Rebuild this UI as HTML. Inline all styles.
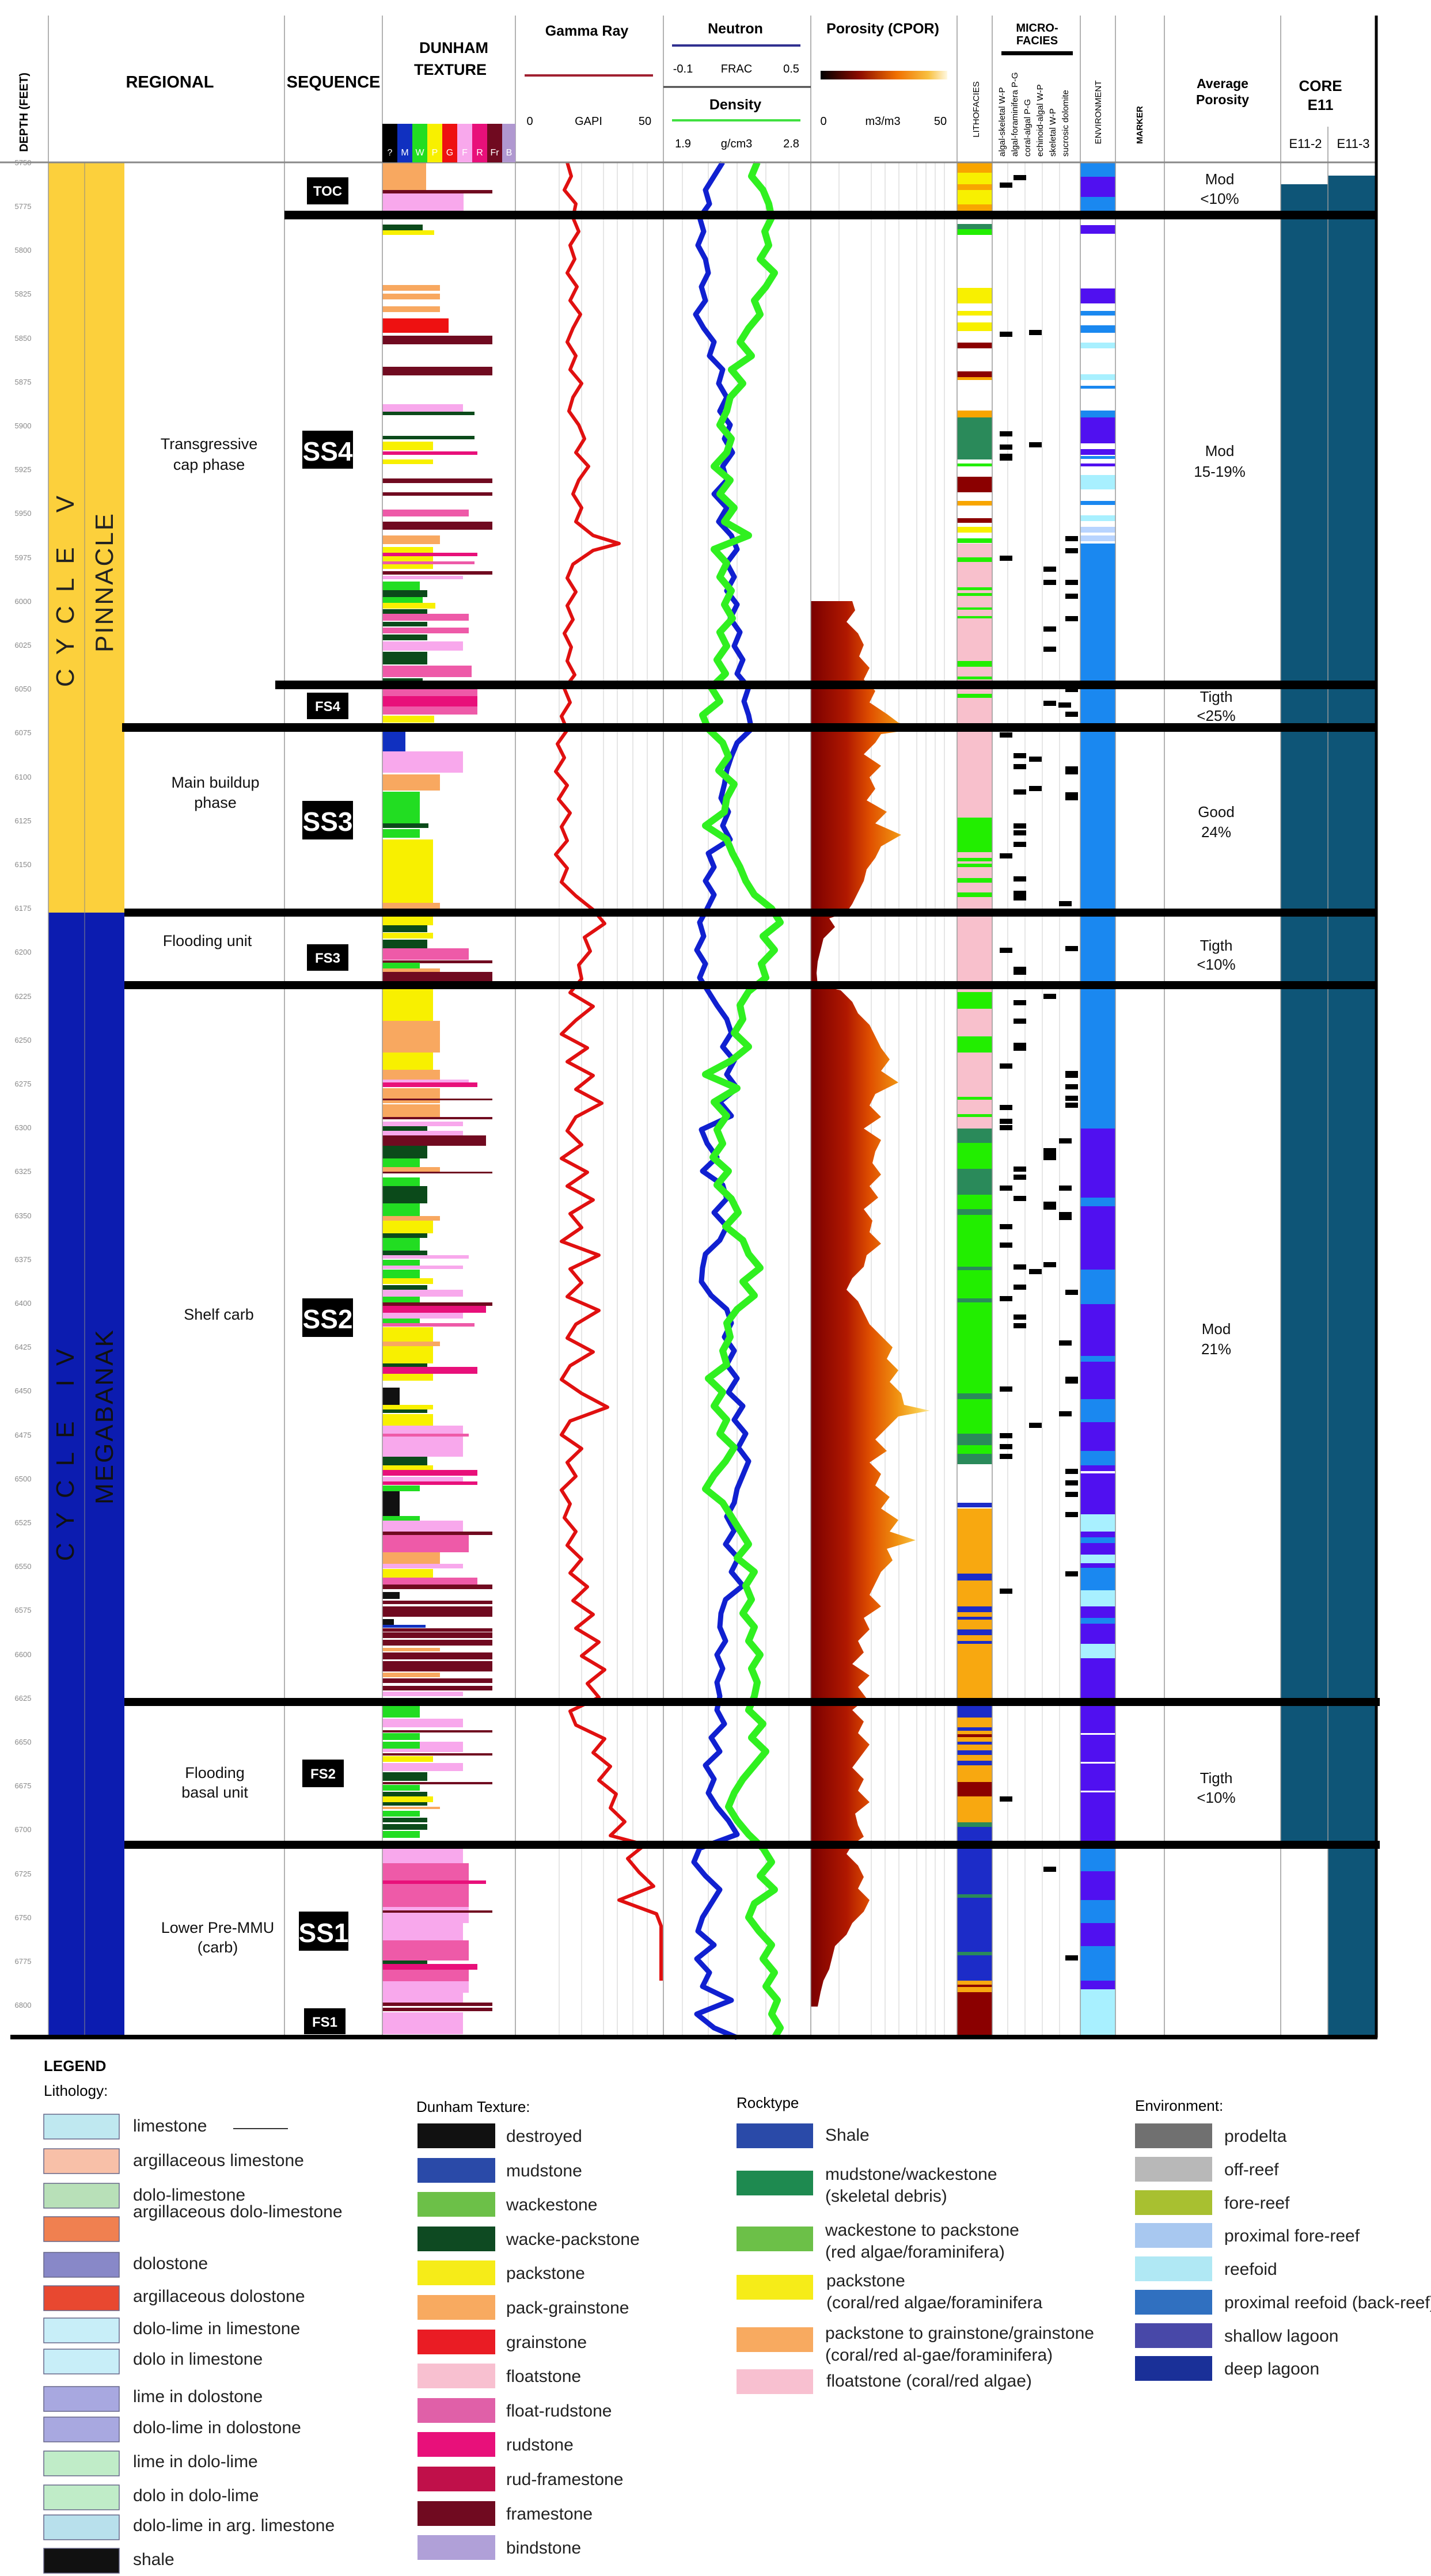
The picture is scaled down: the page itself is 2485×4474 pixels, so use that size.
<!DOCTYPE html>
<html><head><meta charset="utf-8">
<style>
html,body{margin:0;padding:0;background:#fff;}
svg{display:block;}
text{font-family:"Liberation Sans",sans-serif;}
.Y{fill:#f8f000}.G{fill:#22dd22}.DG{fill:#0b4a1a}.PK{fill:#f8a8ec}.MG{fill:#e8107a}.FR{fill:#ee5aa8}.MR{fill:#700a20}.OR{fill:#f8a860}.RD{fill:#ee1111}.BK{fill:#111}.BL{fill:#1030c0}
.lo{fill:#f8a500}.ly{fill:#f8f000}.lg{fill:#22ee00}.ld{fill:#2a8a5a}.lm{fill:#8b0000}.lp{fill:#f8c0cc}.ln{fill:#1c2cc8}.lr{fill:#f8a810}
.eb{fill:#1a88f0}.ep{fill:#5010f0}.ec{fill:#a8f0ff}.el{fill:#b8d4ff}
.gl line{stroke:#ccc;stroke-width:1}
.dep text{font-size:13px;fill:#888;text-anchor:middle}
.md rect{fill:#000}
</style></head>
<body>
<svg width="2485" height="4474" viewBox="0 0 2485 4474" xmlns="http://www.w3.org/2000/svg">
<defs>
<linearGradient id="pg" x1="0" x2="1" y1="0" y2="0">
<stop offset="0" stop-color="#000"/><stop offset="0.3" stop-color="#8a0a00"/><stop offset="0.6" stop-color="#f07000"/><stop offset="0.85" stop-color="#f8c040"/><stop offset="1" stop-color="#fff8e0"/>
</linearGradient>
<linearGradient id="pf" gradientUnits="userSpaceOnUse" x1="1408" y1="0" x2="1615" y2="0">
<stop offset="0" stop-color="#7a0000"/><stop offset="0.3" stop-color="#b01800"/><stop offset="0.5" stop-color="#e05000"/><stop offset="0.72" stop-color="#f09010"/><stop offset="0.9" stop-color="#f8c848"/><stop offset="1" stop-color="#fce8a0"/>
</linearGradient>
</defs>
<rect x="0" y="0" width="2485" height="4474" fill="#fff"/>
<rect x="84" y="282" width="132" height="1303" fill="#fcd03c"/>
<rect x="84" y="1585" width="132" height="1954" fill="#0c1cb0"/>
<line x1="147" y1="282" x2="147" y2="3539" stroke="#888" stroke-width="1"/>
<g class="gl">
<line x1="971" y1="282" x2="971" y2="3539"/><line x1="1010" y1="282" x2="1010" y2="3539"/><line x1="1048" y1="282" x2="1048" y2="3539"/><line x1="1072" y1="282" x2="1072" y2="3539"/><line x1="1099" y1="282" x2="1099" y2="3539"/><line x1="1124" y1="282" x2="1124" y2="3539"/>
<line x1="1185" y1="282" x2="1185" y2="3539"/><line x1="1230" y1="282" x2="1230" y2="3539"/><line x1="1280" y1="282" x2="1280" y2="3539"/><line x1="1330" y1="282" x2="1330" y2="3539"/><line x1="1370" y1="282" x2="1370" y2="3539"/>
<line x1="1457" y1="282" x2="1457" y2="3539"/><line x1="1513" y1="282" x2="1513" y2="3539"/><line x1="1537" y1="282" x2="1537" y2="3539"/><line x1="1561" y1="282" x2="1561" y2="3539"/><line x1="1592" y1="282" x2="1592" y2="3539"/><line x1="1608" y1="282" x2="1608" y2="3539"/><line x1="1624" y1="282" x2="1624" y2="3539"/><line x1="1640" y1="282" x2="1640" y2="3539"/>
<line x1="1750" y1="282" x2="1750" y2="3539"/><line x1="1780" y1="282" x2="1780" y2="3539"/><line x1="1810" y1="282" x2="1810" y2="3539"/><line x1="1840" y1="282" x2="1840" y2="3539"/>
</g>
<g class="dep">
<text x="40" y="287">5750</text><text x="40" y="363">5775</text><text x="40" y="439">5800</text><text x="40" y="515">5825</text><text x="40" y="592">5850</text><text x="40" y="668">5875</text><text x="40" y="744">5900</text><text x="40" y="820">5925</text><text x="40" y="896">5950</text><text x="40" y="973">5975</text><text x="40" y="1049">6000</text><text x="40" y="1125">6025</text><text x="40" y="1201">6050</text><text x="40" y="1277">6075</text><text x="40" y="1354">6100</text><text x="40" y="1430">6125</text><text x="40" y="1506">6150</text><text x="40" y="1582">6175</text><text x="40" y="1658">6200</text><text x="40" y="1735">6225</text><text x="40" y="1811">6250</text><text x="40" y="1887">6275</text><text x="40" y="1963">6300</text><text x="40" y="2039">6325</text><text x="40" y="2116">6350</text><text x="40" y="2192">6375</text><text x="40" y="2268">6400</text><text x="40" y="2344">6425</text><text x="40" y="2420">6450</text><text x="40" y="2497">6475</text><text x="40" y="2573">6500</text><text x="40" y="2649">6525</text><text x="40" y="2725">6550</text><text x="40" y="2801">6575</text><text x="40" y="2878">6600</text><text x="40" y="2954">6625</text><text x="40" y="3030">6650</text><text x="40" y="3106">6675</text><text x="40" y="3182">6700</text><text x="40" y="3259">6725</text><text x="40" y="3335">6750</text><text x="40" y="3411">6775</text><text x="40" y="3487">6800</text>
</g>
<rect x="2224" y="320" width="82" height="2884" fill="#0e5577"/>
<rect x="2306" y="305" width="82" height="3234" fill="#0e5577"/>
<g>
<rect x="664" y="282" width="76" height="53" class="OR"/><rect x="664" y="330" width="191" height="6" class="MR"/><rect x="664" y="336" width="141" height="34" class="PK"/>
<rect x="664" y="390" width="70" height="12" class="DG"/><rect x="664" y="400" width="90" height="8" class="Y"/>
<rect x="664" y="495" width="100" height="10" class="OR"/><rect x="664" y="510" width="100" height="10" class="OR"/><rect x="664" y="532" width="100" height="10" class="OR"/>
<rect x="664" y="553" width="115" height="25" class="RD"/><rect x="664" y="583" width="191" height="15" class="MR"/><rect x="664" y="637" width="191" height="15" class="MR"/>
<rect x="664" y="702" width="140" height="15" class="PK"/><rect x="664" y="715" width="160" height="6" class="DG"/><rect x="664" y="757" width="160" height="6" class="DG"/>
<rect x="664" y="767" width="88" height="15" class="Y"/><rect x="664" y="784" width="165" height="6" class="MG"/><rect x="664" y="798" width="88" height="8" class="Y"/>
<rect x="664" y="831" width="191" height="8" class="MR"/><rect x="664" y="855" width="191" height="6" class="MR"/><rect x="664" y="885" width="150" height="12" class="FR"/><rect x="664" y="906" width="191" height="14" class="MR"/>
<rect x="664" y="930" width="100" height="15" class="OR"/><rect x="664" y="950" width="88" height="22" class="Y"/><rect x="664" y="960" width="165" height="6" class="MG"/><rect x="664" y="972" width="88" height="16" class="Y"/><rect x="664" y="975" width="160" height="5" class="FR"/>
<rect x="664" y="992" width="191" height="6" class="MR"/><rect x="664" y="1000" width="140" height="6" class="PK"/><rect x="664" y="1010" width="65" height="15" class="G"/><rect x="664" y="1025" width="78" height="12" class="DG"/><rect x="664" y="1037" width="70" height="10" class="G"/><rect x="664" y="1047" width="92" height="10" class="Y"/><rect x="664" y="1058" width="78" height="8" class="DG"/>
<rect x="664" y="1066" width="150" height="12" class="FR"/><rect x="664" y="1080" width="78" height="8" class="DG"/><rect x="664" y="1090" width="150" height="10" class="FR"/><rect x="664" y="1102" width="78" height="10" class="DG"/><rect x="664" y="1114" width="140" height="16" class="PK"/><rect x="664" y="1132" width="78" height="22" class="DG"/><rect x="664" y="1156" width="155" height="20" class="FR"/><rect x="664" y="1178" width="70" height="6" class="DG"/>
<rect x="664" y="1197" width="165" height="12" class="FR"/><rect x="664" y="1209" width="165" height="18" class="MG"/><rect x="664" y="1227" width="165" height="14" class="FR"/><rect x="664" y="1243" width="90" height="12" class="Y"/>
<rect x="664" y="1271" width="40" height="50" class="BL"/><rect x="664" y="1305" width="140" height="12" class="PK"/><rect x="664" y="1317" width="140" height="25" class="PK"/><rect x="664" y="1345" width="100" height="28" class="OR"/><rect x="664" y="1375" width="65" height="55" class="G"/><rect x="664" y="1430" width="80" height="8" class="DG"/><rect x="664" y="1440" width="65" height="15" class="G"/><rect x="664" y="1458" width="88" height="110" class="Y"/><rect x="664" y="1568" width="100" height="10" class="OR"/>
<rect x="664" y="1592" width="88" height="15" class="Y"/><rect x="664" y="1607" width="78" height="12" class="DG"/><rect x="664" y="1620" width="88" height="10" class="Y"/><rect x="664" y="1632" width="78" height="15" class="DG"/><rect x="664" y="1647" width="150" height="20" class="FR"/><rect x="664" y="1668" width="191" height="5" class="MR"/><rect x="664" y="1672" width="65" height="10" class="G"/><rect x="664" y="1682" width="100" height="8" class="OR"/><rect x="664" y="1688" width="191" height="18" class="MR"/>
<rect x="664" y="1718" width="88" height="55" class="Y"/><rect x="664" y="1773" width="100" height="55" class="OR"/><rect x="664" y="1828" width="88" height="30" class="Y"/><rect x="664" y="1858" width="100" height="18" class="OR"/><rect x="664" y="1875" width="150" height="5" class="PK"/><rect x="664" y="1880" width="165" height="8" class="MG"/><rect x="664" y="1890" width="100" height="26" class="OR"/><rect x="664" y="1908" width="191" height="3" class="MR"/><rect x="664" y="1918" width="100" height="22" class="OR"/><rect x="664" y="1940" width="191" height="4" class="MR"/>
<rect x="664" y="1948" width="140" height="8" class="PK"/><rect x="664" y="1956" width="78" height="8" class="DG"/><rect x="664" y="1964" width="140" height="8" class="PK"/><rect x="664" y="1972" width="180" height="18" class="MR"/><rect x="664" y="1990" width="78" height="12" class="DG"/><rect x="664" y="2002" width="78" height="10" class="DG"/><rect x="664" y="2012" width="65" height="15" class="G"/><rect x="664" y="2027" width="100" height="8" class="OR"/><rect x="664" y="2035" width="191" height="3" class="MR"/><rect x="664" y="2045" width="65" height="15" class="G"/><rect x="664" y="2060" width="78" height="30" class="DG"/><rect x="664" y="2090" width="65" height="22" class="G"/><rect x="664" y="2112" width="100" height="8" class="OR"/><rect x="664" y="2120" width="88" height="22" class="Y"/><rect x="664" y="2142" width="78" height="8" class="DG"/><rect x="664" y="2150" width="65" height="22" class="G"/><rect x="664" y="2172" width="78" height="8" class="DG"/><rect x="664" y="2180" width="150" height="6" class="PK"/><rect x="664" y="2188" width="65" height="10" class="G"/><rect x="664" y="2198" width="140" height="6" class="PK"/><rect x="664" y="2205" width="65" height="15" class="G"/><rect x="664" y="2220" width="88" height="10" class="Y"/><rect x="664" y="2232" width="78" height="8" class="DG"/><rect x="664" y="2240" width="140" height="12" class="PK"/><rect x="664" y="2252" width="65" height="10" class="G"/><rect x="664" y="2262" width="191" height="6" class="MR"/><rect x="664" y="2268" width="180" height="12" class="MG"/><rect x="664" y="2280" width="140" height="10" class="PK"/><rect x="664" y="2290" width="65" height="8" class="G"/><rect x="664" y="2298" width="160" height="6" class="FR"/><rect x="664" y="2305" width="88" height="25" class="Y"/><rect x="664" y="2330" width="100" height="8" class="OR"/><rect x="664" y="2338" width="88" height="30" class="Y"/><rect x="664" y="2368" width="78" height="6" class="DG"/><rect x="664" y="2374" width="165" height="12" class="MG"/><rect x="664" y="2386" width="88" height="12" class="Y"/>
<rect x="664" y="2410" width="30" height="30" class="BK"/><rect x="664" y="2440" width="88" height="8" class="Y"/><rect x="664" y="2448" width="78" height="6" class="DG"/><rect x="664" y="2456" width="88" height="20" class="Y"/><rect x="664" y="2476" width="140" height="54" class="PK"/><rect x="664" y="2490" width="150" height="5" class="FR"/><rect x="664" y="2530" width="78" height="15" class="DG"/><rect x="664" y="2545" width="88" height="8" class="Y"/><rect x="664" y="2553" width="165" height="10" class="MG"/><rect x="664" y="2565" width="140" height="8" class="PK"/><rect x="664" y="2573" width="165" height="6" class="MG"/><rect x="664" y="2580" width="65" height="10" class="G"/><rect x="664" y="2590" width="30" height="15" class="BK"/><rect x="664" y="2605" width="30" height="28" class="BK"/><rect x="664" y="2633" width="65" height="8" class="G"/><rect x="664" y="2641" width="140" height="20" class="PK"/><rect x="664" y="2660" width="191" height="6" class="MR"/><rect x="664" y="2666" width="150" height="30" class="FR"/><rect x="664" y="2696" width="100" height="20" class="OR"/><rect x="664" y="2716" width="140" height="8" class="PK"/><rect x="664" y="2725" width="88" height="15" class="Y"/><rect x="664" y="2740" width="165" height="12" class="FR"/><rect x="664" y="2752" width="191" height="8" class="MR"/><rect x="664" y="2765" width="30" height="12" class="BK"/><rect x="664" y="2780" width="191" height="6" class="MR"/><rect x="664" y="2790" width="191" height="10" class="MR"/><rect x="664" y="2800" width="191" height="8" class="MR"/><rect x="664" y="2812" width="20" height="10" class="BK"/><rect x="664" y="2822" width="75" height="5" class="BL"/><rect x="664" y="2828" width="191" height="6" class="MR"/><rect x="664" y="2835" width="191" height="10" class="MR"/><rect x="664" y="2848" width="191" height="10" class="MR"/><rect x="664" y="2862" width="100" height="6" class="OR"/><rect x="664" y="2870" width="191" height="12" class="MR"/><rect x="664" y="2885" width="191" height="18" class="MR"/><rect x="664" y="2905" width="100" height="8" class="OR"/><rect x="664" y="2915" width="191" height="8" class="MR"/><rect x="664" y="2928" width="191" height="8" class="MR"/><rect x="664" y="2938" width="140" height="8" class="PK"/>
<rect x="664" y="2963" width="65" height="20" class="G"/><rect x="664" y="2985" width="140" height="15" class="PK"/><rect x="664" y="3005" width="191" height="4" class="MR"/><rect x="664" y="3010" width="65" height="12" class="G"/><rect x="664" y="3025" width="140" height="18" class="PK"/><rect x="664" y="3025" width="65" height="12" class="G"/><rect x="664" y="3045" width="191" height="4" class="MR"/><rect x="664" y="3050" width="88" height="10" class="Y"/><rect x="664" y="3062" width="140" height="14" class="PK"/><rect x="664" y="3078" width="78" height="15" class="DG"/><rect x="664" y="3095" width="191" height="4" class="MR"/><rect x="664" y="3100" width="65" height="10" class="G"/><rect x="664" y="3112" width="78" height="8" class="DG"/><rect x="664" y="3120" width="88" height="10" class="Y"/><rect x="664" y="3130" width="78" height="6" class="DG"/><rect x="664" y="3138" width="100" height="4" class="OR"/><rect x="664" y="3145" width="65" height="10" class="G"/><rect x="664" y="3157" width="78" height="8" class="DG"/><rect x="664" y="3168" width="78" height="10" class="DG"/><rect x="664" y="3180" width="65" height="12" class="G"/>
<rect x="664" y="3211" width="140" height="25" class="PK"/><rect x="664" y="3236" width="150" height="30" class="FR"/><rect x="664" y="3266" width="180" height="6" class="MG"/><rect x="664" y="3272" width="150" height="40" class="FR"/><rect x="664" y="3312" width="150" height="28" class="PK"/><rect x="664" y="3318" width="191" height="4" class="MR"/><rect x="664" y="3340" width="140" height="30" class="PK"/><rect x="664" y="3370" width="150" height="35" class="FR"/><rect x="664" y="3405" width="78" height="6" class="DG"/><rect x="664" y="3411" width="165" height="10" class="MG"/><rect x="664" y="3421" width="150" height="20" class="FR"/><rect x="664" y="3441" width="150" height="20" class="PK"/><rect x="664" y="3461" width="140" height="20" class="PK"/><rect x="664" y="3478" width="191" height="6" class="MR"/><rect x="664" y="3487" width="191" height="6" class="MR"/><rect x="664" y="3495" width="140" height="38" class="PK"/>
</g>
<g>
<rect x="1662" y="282" width="61" height="18" class="lo"/><rect x="1662" y="300" width="61" height="20" class="ly"/><rect x="1662" y="320" width="61" height="10" class="lo"/><rect x="1662" y="330" width="61" height="25" class="ly"/><rect x="1662" y="355" width="61" height="11" class="lo"/>
<rect x="1662" y="389" width="61" height="9" class="ld"/><rect x="1662" y="398" width="61" height="10" class="lg"/>
<rect x="1662" y="500" width="61" height="27" class="ly"/><rect x="1662" y="540" width="61" height="8" class="ly"/><rect x="1662" y="560" width="61" height="15" class="ly"/><rect x="1662" y="595" width="61" height="10" class="lm"/><rect x="1662" y="645" width="61" height="10" class="lm"/><rect x="1662" y="655" width="61" height="5" class="lo"/>
<rect x="1662" y="713" width="61" height="12" class="lo"/><rect x="1662" y="725" width="61" height="73" class="ld"/><rect x="1662" y="805" width="61" height="5" class="lg"/><rect x="1662" y="828" width="61" height="27" class="lm"/><rect x="1662" y="870" width="61" height="8" class="lo"/><rect x="1662" y="900" width="61" height="8" class="lm"/><rect x="1662" y="915" width="61" height="10" class="ly"/><rect x="1662" y="935" width="61" height="8" class="lg"/>
<rect x="1662" y="944" width="61" height="1016" class="lp"/>
<rect x="1662" y="968" width="61" height="8" class="lg"/><rect x="1662" y="1020" width="61" height="5" class="lg"/><rect x="1662" y="1030" width="61" height="5" class="lg"/><rect x="1662" y="1055" width="61" height="4" class="lg"/><rect x="1662" y="1070" width="61" height="4" class="lg"/><rect x="1662" y="1148" width="61" height="10" class="lg"/><rect x="1662" y="1175" width="61" height="5" class="lg"/><rect x="1662" y="1205" width="61" height="7" class="lg"/>
<rect x="1662" y="1420" width="61" height="60" class="lg"/><rect x="1662" y="1490" width="61" height="6" class="lg"/><rect x="1662" y="1500" width="61" height="6" class="lg"/><rect x="1662" y="1525" width="61" height="8" class="lg"/><rect x="1662" y="1550" width="61" height="8" class="lg"/>
<rect x="1662" y="1723" width="61" height="29" class="lg"/><rect x="1662" y="1800" width="61" height="28" class="lg"/><rect x="1662" y="1905" width="61" height="5" class="lg"/><rect x="1662" y="1935" width="61" height="5" class="lg"/>
<rect x="1662" y="1960" width="61" height="583" class="lg"/>
<rect x="1662" y="1960" width="61" height="25" class="ld"/><rect x="1662" y="2030" width="61" height="45" class="ld"/><rect x="1662" y="2100" width="61" height="10" class="ld"/><rect x="1662" y="2200" width="61" height="6" class="ld"/><rect x="1662" y="2255" width="61" height="7" class="ld"/><rect x="1662" y="2420" width="61" height="10" class="ld"/><rect x="1662" y="2490" width="61" height="20" class="ld"/><rect x="1662" y="2525" width="61" height="18" class="ld"/>
<rect x="1662" y="2610" width="61" height="8" class="ln"/><rect x="1662" y="2620" width="61" height="336" class="lr"/>
<rect x="1662" y="2733" width="61" height="12" class="ln"/><rect x="1662" y="2790" width="61" height="10" class="ln"/><rect x="1662" y="2808" width="61" height="5" class="ln"/><rect x="1662" y="2830" width="61" height="10" class="ln"/><rect x="1662" y="2850" width="61" height="5" class="ln"/>
<rect x="1662" y="2963" width="61" height="20" class="ln"/><rect x="1662" y="2983" width="61" height="112" class="lr"/><rect x="1662" y="3000" width="61" height="6" class="ln"/><rect x="1662" y="3012" width="61" height="5" class="lm"/><rect x="1662" y="3025" width="61" height="5" class="ln"/><rect x="1662" y="3040" width="61" height="8" class="ln"/><rect x="1662" y="3058" width="61" height="8" class="ln"/>
<rect x="1662" y="3095" width="61" height="25" class="lm"/><rect x="1662" y="3120" width="61" height="45" class="lr"/><rect x="1662" y="3165" width="61" height="8" class="ld"/><rect x="1662" y="3173" width="61" height="24" class="ln"/>
<rect x="1662" y="3211" width="61" height="229" class="ln"/><rect x="1662" y="3290" width="61" height="6" class="ld"/><rect x="1662" y="3390" width="61" height="6" class="ld"/>
<rect x="1662" y="3440" width="61" height="20" class="lr"/><rect x="1662" y="3447" width="61" height="4" class="lm"/><rect x="1662" y="3460" width="61" height="79" class="lm"/>
</g>
<g>
<rect x="1876" y="282" width="61" height="25" class="eb"/><rect x="1876" y="307" width="61" height="35" class="ep"/><rect x="1876" y="342" width="61" height="24" class="eb"/>
<rect x="1876" y="391" width="61" height="15" class="ep"/><rect x="1876" y="501" width="61" height="26" class="ep"/><rect x="1876" y="540" width="61" height="8" class="eb"/><rect x="1876" y="565" width="61" height="13" class="eb"/><rect x="1876" y="595" width="61" height="10" class="ec"/><rect x="1876" y="650" width="61" height="10" class="ec"/><rect x="1876" y="670" width="61" height="5" class="eb"/><rect x="1876" y="713" width="61" height="12" class="eb"/><rect x="1876" y="725" width="61" height="45" class="ep"/><rect x="1876" y="780" width="61" height="10" class="ep"/><rect x="1876" y="792" width="61" height="5" class="eb"/><rect x="1876" y="805" width="61" height="5" class="ep"/><rect x="1876" y="825" width="61" height="25" class="ec"/><rect x="1876" y="870" width="61" height="7" class="eb"/><rect x="1876" y="895" width="61" height="10" class="ec"/><rect x="1876" y="915" width="61" height="10" class="el"/><rect x="1876" y="930" width="61" height="10" class="el"/>
<rect x="1876" y="944" width="61" height="1016" class="eb"/>
<rect x="1876" y="1960" width="61" height="1244" class="ep"/>
<rect x="1876" y="2080" width="61" height="15" class="eb"/><rect x="1876" y="2205" width="61" height="60" class="eb"/><rect x="1876" y="2355" width="61" height="10" class="eb"/><rect x="1876" y="2430" width="61" height="40" class="eb"/><rect x="1876" y="2520" width="61" height="25" class="eb"/><rect x="1876" y="2555" width="61" height="4" fill="#fff"/><rect x="1876" y="2630" width="61" height="30" class="ec"/><rect x="1876" y="2670" width="61" height="10" class="eb"/><rect x="1876" y="2700" width="61" height="15" class="ec"/><rect x="1876" y="2723" width="61" height="39" class="eb"/><rect x="1876" y="2762" width="61" height="28" class="ec"/><rect x="1876" y="2810" width="61" height="10" class="eb"/><rect x="1876" y="2855" width="61" height="25" class="ec"/><rect x="1876" y="3010" width="61" height="3" fill="#fff"/><rect x="1876" y="3060" width="61" height="3" fill="#fff"/><rect x="1876" y="3110" width="61" height="3" fill="#fff"/>
<rect x="1876" y="3211" width="61" height="39" class="eb"/><rect x="1876" y="3250" width="61" height="50" class="ep"/><rect x="1876" y="3300" width="61" height="40" class="eb"/><rect x="1876" y="3340" width="61" height="40" class="ep"/><rect x="1876" y="3380" width="61" height="60" class="eb"/><rect x="1876" y="3440" width="61" height="15" class="ep"/><rect x="1876" y="3455" width="61" height="84" class="ec"/>
</g>
<g class="md">
<rect x="1760" y="304" width="22" height="9"/><rect x="1736" y="317" width="22" height="9"/><rect x="1736" y="576" width="22" height="9"/><rect x="1787" y="573" width="22" height="9"/><rect x="1736" y="749" width="22" height="9"/><rect x="1736" y="772" width="22" height="9"/><rect x="1736" y="788" width="22" height="12"/><rect x="1787" y="768" width="22" height="9"/>
<rect x="1850" y="931" width="22" height="9"/><rect x="1736" y="965" width="22" height="9"/><rect x="1812" y="984" width="22" height="9"/><rect x="1812" y="1007" width="22" height="9"/><rect x="1850" y="952" width="22" height="9"/><rect x="1850" y="1007" width="22" height="9"/><rect x="1850" y="1031" width="22" height="9"/><rect x="1850" y="1070" width="22" height="9"/><rect x="1812" y="1088" width="22" height="9"/><rect x="1812" y="1123" width="22" height="9"/><rect x="1850" y="1193" width="22" height="9"/><rect x="1812" y="1217" width="22" height="9"/><rect x="1838" y="1220" width="22" height="9"/><rect x="1850" y="1236" width="22" height="9"/>
<rect x="1736" y="1272" width="22" height="9"/><rect x="1760" y="1308" width="22" height="9"/><rect x="1787" y="1314" width="22" height="9"/><rect x="1760" y="1327" width="22" height="9"/><rect x="1850" y="1331" width="22" height="14"/><rect x="1850" y="1376" width="22" height="14"/><rect x="1760" y="1371" width="22" height="9"/><rect x="1787" y="1365" width="22" height="9"/><rect x="1760" y="1430" width="22" height="9"/><rect x="1760" y="1442" width="22" height="9"/><rect x="1760" y="1462" width="22" height="9"/><rect x="1736" y="1482" width="22" height="9"/>
<rect x="1760" y="1522" width="22" height="9"/><rect x="1760" y="1547" width="22" height="9"/><rect x="1760" y="1555" width="22" height="9"/><rect x="1839" y="1565" width="22" height="9"/><rect x="1736" y="1646" width="22" height="9"/><rect x="1850" y="1643" width="22" height="9"/><rect x="1760" y="1679" width="22" height="14"/><rect x="1812" y="1726" width="22" height="9"/><rect x="1760" y="1737" width="22" height="9"/><rect x="1760" y="1769" width="22" height="9"/><rect x="1760" y="1811" width="22" height="14"/><rect x="1736" y="1847" width="22" height="9"/><rect x="1850" y="1860" width="22" height="12"/><rect x="1850" y="1883" width="22" height="9"/><rect x="1850" y="1903" width="22" height="9"/><rect x="1850" y="1915" width="22" height="9"/><rect x="1736" y="1919" width="22" height="9"/><rect x="1736" y="1943" width="22" height="9"/><rect x="1736" y="1954" width="22" height="9"/><rect x="1839" y="1977" width="22" height="9"/><rect x="1812" y="1994" width="22" height="12"/><rect x="1812" y="2006" width="22" height="9"/><rect x="1760" y="2026" width="22" height="9"/><rect x="1760" y="2040" width="22" height="9"/><rect x="1736" y="2059" width="22" height="9"/><rect x="1839" y="2059" width="22" height="9"/><rect x="1760" y="2077" width="22" height="9"/><rect x="1812" y="2087" width="22" height="14"/><rect x="1839" y="2105" width="22" height="14"/><rect x="1736" y="2126" width="22" height="9"/><rect x="1736" y="2158" width="22" height="9"/><rect x="1760" y="2196" width="22" height="9"/><rect x="1787" y="2204" width="22" height="9"/><rect x="1812" y="2192" width="22" height="9"/><rect x="1760" y="2231" width="22" height="9"/><rect x="1736" y="2251" width="22" height="9"/><rect x="1850" y="2240" width="22" height="9"/><rect x="1760" y="2283" width="22" height="9"/><rect x="1760" y="2298" width="22" height="9"/><rect x="1839" y="2328" width="22" height="9"/><rect x="1850" y="2391" width="22" height="12"/><rect x="1736" y="2408" width="22" height="9"/><rect x="1839" y="2451" width="22" height="9"/><rect x="1787" y="2471" width="22" height="9"/><rect x="1736" y="2489" width="22" height="9"/><rect x="1736" y="2508" width="22" height="9"/><rect x="1736" y="2525" width="22" height="9"/><rect x="1850" y="2551" width="22" height="9"/><rect x="1850" y="2571" width="22" height="9"/><rect x="1850" y="2591" width="22" height="9"/><rect x="1850" y="2626" width="22" height="9"/><rect x="1850" y="2729" width="22" height="9"/><rect x="1736" y="2759" width="22" height="9"/><rect x="1736" y="3120" width="22" height="9"/><rect x="1812" y="3242" width="22" height="9"/><rect x="1850" y="3396" width="22" height="9"/>
</g>
<polygon fill="url(#pf)" points="1408,1044 1480,1044 1485,1060 1470,1080 1490,1100 1500,1120 1492,1140 1510,1160 1500,1180 1520,1200 1510,1220 1540,1240 1560,1255 1600,1265 1530,1275 1520,1290 1500,1310 1530,1330 1510,1350 1520,1370 1505,1390 1540,1410 1520,1430 1565,1450 1530,1470 1520,1490 1505,1510 1500,1530 1490,1550 1480,1570 1470,1585 1440,1595 1450,1610 1430,1630 1425,1650 1420,1670 1418,1690 1420,1711 1460,1720 1480,1740 1490,1760 1510,1780 1520,1800 1530,1820 1545,1840 1530,1860 1560,1880 1520,1900 1510,1920 1530,1940 1500,1960 1530,1980 1520,2000 1515,2020 1530,2040 1510,2060 1525,2080 1500,2100 1515,2120 1510,2140 1530,2160 1505,2180 1500,2200 1480,2220 1470,2240 1490,2260 1500,2280 1510,2300 1530,2320 1550,2340 1540,2360 1560,2380 1545,2400 1565,2420 1570,2440 1615,2450 1560,2460 1540,2480 1520,2500 1540,2520 1510,2540 1530,2560 1520,2580 1545,2600 1530,2620 1560,2640 1545,2660 1590,2675 1540,2690 1550,2710 1530,2730 1520,2750 1510,2770 1530,2790 1500,2810 1510,2830 1490,2850 1500,2870 1480,2890 1510,2910 1490,2930 1505,2950 1480,2970 1500,2990 1490,3010 1510,3030 1495,3050 1480,3070 1500,3090 1490,3110 1510,3130 1485,3150 1490,3170 1500,3190 1480,3204 1470,3220 1490,3240 1500,3260 1490,3280 1510,3300 1500,3320 1480,3340 1470,3360 1450,3380 1445,3400 1440,3420 1430,3440 1425,3460 1420,3485 1408,3485"/>
<polyline fill="none" stroke="#e01010" stroke-width="6" stroke-linejoin="round" points="985,282 992,306 980,330 1000,354 995,378 1005,402 990,426 998,450 985,474 1002,498 990,522 1008,546 995,570 985,594 1000,618 990,642 1010,666 995,690 988,714 1005,738 1015,762 1000,786 1022,810 1005,834 995,858 1010,882 1000,906 1030,930 1075,944 1030,956 995,980 985,1004 1000,1028 985,1052 995,1076 980,1100 992,1124 985,1148 998,1172 980,1196 990,1220 975,1244 985,1268 968,1292 980,1316 965,1340 985,1364 970,1388 990,1412 975,1436 985,1460 965,1484 985,1508 975,1532 1000,1556 1030,1580 1050,1604 1015,1628 1025,1652 1005,1676 1010,1700 990,1724 1030,1748 1000,1772 975,1796 1020,1820 985,1844 1030,1868 1000,1892 1045,1916 1000,1940 985,1964 1010,1988 975,2012 1020,2036 985,2060 1030,2084 990,2108 1010,2132 975,2156 1040,2180 990,2204 1010,2228 985,2252 1040,2276 1000,2300 985,2324 1030,2348 990,2372 975,2396 1010,2420 1055,2444 990,2468 975,2492 1010,2516 985,2540 1000,2564 975,2588 990,2612 980,2636 1000,2660 985,2684 1010,2708 990,2732 1020,2756 995,2780 1030,2804 1000,2828 1040,2852 1010,2876 1050,2900 1020,2924 1040,2948 990,2972 1000,2996 1050,3020 1030,3044 1060,3068 1040,3092 1070,3116 1060,3140 1085,3164 1060,3188 1120,3204 1090,3228 1110,3252 1135,3276 1075,3300 1140,3324 1148,3345 1148,3440"/>
<polyline fill="none" stroke="#1020d0" stroke-width="9" stroke-linejoin="round" points="1255,282 1240,306 1225,330 1232,354 1215,378 1222,402 1212,426 1225,450 1230,474 1218,498 1225,522 1208,546 1222,570 1240,594 1232,618 1255,642 1248,666 1262,690 1250,714 1268,738 1258,762 1272,786 1255,810 1262,834 1240,858 1262,882 1248,906 1270,930 1280,954 1262,978 1275,1002 1262,1026 1280,1050 1268,1074 1285,1098 1275,1122 1290,1146 1280,1170 1300,1194 1292,1218 1300,1242 1305,1266 1280,1290 1270,1314 1262,1338 1258,1362 1252,1386 1265,1410 1255,1434 1268,1458 1230,1482 1240,1506 1225,1530 1240,1554 1228,1578 1215,1602 1222,1626 1210,1650 1225,1674 1215,1698 1230,1722 1245,1746 1262,1770 1270,1794 1255,1818 1275,1842 1262,1866 1280,1890 1250,1914 1270,1938 1218,1962 1228,1986 1245,2010 1220,2034 1255,2058 1262,2082 1240,2106 1262,2130 1250,2154 1225,2178 1220,2202 1218,2226 1235,2250 1262,2274 1270,2298 1258,2322 1275,2346 1262,2370 1280,2394 1265,2418 1290,2442 1275,2466 1295,2490 1282,2514 1300,2538 1290,2562 1280,2586 1275,2610 1262,2634 1275,2658 1260,2682 1282,2706 1270,2730 1290,2754 1260,2778 1252,2802 1250,2826 1260,2850 1245,2874 1255,2898 1245,2922 1250,2946 1245,2970 1258,2994 1235,3018 1250,3042 1225,3066 1240,3090 1230,3114 1245,3138 1265,3162 1280,3186 1215,3210 1205,3234 1225,3258 1250,3282 1235,3306 1220,3330 1212,3354 1240,3378 1210,3402 1232,3426 1220,3450 1270,3474 1210,3498 1240,3522 1280,3539"/>
<polyline fill="none" stroke="#30f020" stroke-width="12" stroke-linejoin="round" points="1315,282 1305,306 1325,330 1335,354 1340,378 1328,402 1335,426 1320,450 1345,474 1330,498 1310,522 1320,546 1300,570 1285,594 1305,618 1270,642 1290,666 1268,690 1262,714 1250,738 1270,762 1262,786 1240,810 1268,834 1250,858 1275,882 1258,906 1300,930 1240,954 1262,978 1250,1002 1270,1026 1258,1050 1272,1074 1250,1098 1262,1122 1245,1146 1260,1170 1235,1194 1250,1218 1220,1242 1230,1266 1255,1290 1265,1314 1248,1338 1275,1362 1262,1386 1258,1410 1225,1434 1262,1458 1272,1482 1285,1506 1295,1530 1310,1554 1340,1578 1355,1602 1325,1626 1345,1650 1322,1674 1330,1698 1300,1722 1285,1746 1290,1770 1275,1794 1300,1818 1270,1842 1225,1866 1280,1890 1240,1914 1262,1938 1245,1962 1255,1986 1238,2010 1265,2034 1245,2058 1270,2082 1282,2106 1260,2130 1290,2154 1300,2178 1320,2202 1290,2226 1310,2250 1280,2274 1262,2298 1268,2322 1255,2346 1262,2370 1230,2394 1255,2418 1240,2442 1262,2466 1250,2490 1275,2514 1260,2538 1240,2562 1225,2586 1255,2610 1270,2634 1285,2658 1300,2682 1280,2706 1310,2730 1295,2754 1305,2778 1290,2802 1310,2826 1300,2850 1320,2874 1305,2898 1315,2922 1310,2946 1300,2970 1325,2994 1305,3018 1330,3042 1310,3066 1290,3090 1275,3114 1265,3138 1280,3162 1300,3186 1325,3210 1340,3234 1320,3258 1345,3282 1310,3306 1300,3330 1318,3354 1340,3378 1325,3402 1345,3426 1330,3450 1350,3474 1340,3498 1355,3522 1345,3539"/>
<g stroke="#999" stroke-width="1.5">
<line x1="84" y1="27" x2="84" y2="3539"/><line x1="494" y1="27" x2="494" y2="3539"/><line x1="664" y1="27" x2="664" y2="3539"/><line x1="895" y1="27" x2="895" y2="3539"/><line x1="1152" y1="27" x2="1152" y2="3539"/><line x1="1408" y1="27" x2="1408" y2="3539"/><line x1="1662" y1="27" x2="1662" y2="3539"/><line x1="1723" y1="27" x2="1723" y2="3539"/><line x1="1876" y1="27" x2="1876" y2="3539"/><line x1="1937" y1="27" x2="1937" y2="3539"/><line x1="2022" y1="27" x2="2022" y2="3539"/><line x1="2224" y1="27" x2="2224" y2="3539"/><line x1="2306" y1="220" x2="2306" y2="3539"/>
<line x1="0" y1="282" x2="2388" y2="282" stroke="#888" stroke-width="3"/>
</g>
<line x1="2390" y1="27" x2="2390" y2="3539" stroke="#000" stroke-width="5"/>
<g fill="#000">
<rect x="494" y="366" width="1896" height="15"/><rect x="478" y="1182" width="1912" height="15"/><rect x="212" y="1256" width="2178" height="15"/><rect x="216" y="1578" width="2174" height="14"/><rect x="216" y="1704" width="2174" height="14"/><rect x="216" y="2949" width="2180" height="14"/><rect x="216" y="3197" width="2180" height="14"/><rect x="18" y="3534" width="2374" height="8"/>
</g>
<text transform="translate(48,195) rotate(-90)" text-anchor="middle" font-size="20" font-weight="bold">DEPTH (FEET)</text>
<text x="295" y="152" text-anchor="middle" font-size="29" font-weight="bold">REGIONAL</text>
<text x="579" y="152" text-anchor="middle" font-size="29" font-weight="bold">SEQUENCE</text>
<text x="788" y="92" text-anchor="middle" font-size="27" font-weight="bold">DUNHAM</text>
<text x="782" y="130" text-anchor="middle" font-size="27" font-weight="bold">TEXTURE</text>
<g>
<rect x="664" y="215" width="26" height="67" fill="#000"/><rect x="690" y="215" width="26" height="67" fill="#1030c0"/><rect x="716" y="215" width="26" height="67" fill="#22dd22"/><rect x="742" y="215" width="26" height="67" fill="#f8f000"/><rect x="768" y="215" width="26" height="67" fill="#ee1111"/><rect x="794" y="215" width="26" height="67" fill="#f8a8ec"/><rect x="820" y="215" width="26" height="67" fill="#e8107a"/><rect x="846" y="215" width="26" height="67" fill="#700a20"/><rect x="872" y="215" width="23" height="67" fill="#b098d0"/>
<g font-size="16" fill="#fff" text-anchor="middle"><text x="677" y="270">?</text><text x="703" y="270">M</text><text x="729" y="270">W</text><text x="755" y="270">P</text><text x="781" y="270">G</text><text x="807" y="270">F</text><text x="833" y="270">R</text><text x="859" y="270">Fr</text><text x="884" y="270">B</text></g>
</g>
<text x="1019" y="62" text-anchor="middle" font-size="25" font-weight="bold">Gamma Ray</text>
<line x1="911" y1="131" x2="1134" y2="131" stroke="#a02030" stroke-width="4"/>
<text x="920" y="217" text-anchor="middle" font-size="20">0</text><text x="1022" y="217" text-anchor="middle" font-size="20">GAPI</text><text x="1120" y="217" text-anchor="middle" font-size="20">50</text>
<text x="1277" y="58" text-anchor="middle" font-size="25" font-weight="bold">Neutron</text>
<line x1="1167" y1="79" x2="1390" y2="79" stroke="#303090" stroke-width="4"/>
<text x="1186" y="126" text-anchor="middle" font-size="20">-0.1</text><text x="1279" y="126" text-anchor="middle" font-size="20">FRAC</text><text x="1374" y="126" text-anchor="middle" font-size="20">0.5</text>
<line x1="1152" y1="151" x2="1408" y2="151" stroke="#444" stroke-width="3"/>
<text x="1277" y="190" text-anchor="middle" font-size="25" font-weight="bold">Density</text>
<line x1="1167" y1="209" x2="1390" y2="209" stroke="#40e040" stroke-width="4"/>
<text x="1186" y="256" text-anchor="middle" font-size="20">1.9</text><text x="1279" y="256" text-anchor="middle" font-size="20">g/cm3</text><text x="1374" y="256" text-anchor="middle" font-size="20">2.8</text>
<text x="1533" y="58" text-anchor="middle" font-size="25" font-weight="bold">Porosity (CPOR)</text>
<rect x="1425" y="123" width="220" height="15" fill="url(#pg)"/>
<text x="1430" y="217" text-anchor="middle" font-size="20">0</text><text x="1533" y="217" text-anchor="middle" font-size="20">m3/m3</text><text x="1633" y="217" text-anchor="middle" font-size="20">50</text>
<text transform="translate(1700,190) rotate(-90)" text-anchor="middle" font-size="15">LITHOFACIES</text>
<text x="1801" y="55" text-anchor="middle" font-size="20" font-weight="bold">MICRO-</text>
<text x="1801" y="77" text-anchor="middle" font-size="20" font-weight="bold">FACIES</text>
<rect x="1739" y="89" width="124" height="7" fill="#000"/>
<g font-size="15">
<text transform="translate(1745,272) rotate(-90)">algal-skeletal W-P</text><text transform="translate(1767,272) rotate(-90)">algal-foraminifera P-G</text><text transform="translate(1789,272) rotate(-90)">coral-algal P-G</text><text transform="translate(1811,272) rotate(-90)">echinoid-algal W-P</text><text transform="translate(1833,272) rotate(-90)">skeletal W-P</text><text transform="translate(1855,272) rotate(-90)">sucrosic dolomite</text>
</g>
<text transform="translate(1912,195) rotate(-90)" text-anchor="middle" font-size="15">ENVIRONMENT</text>
<text transform="translate(1984,250) rotate(-90)" font-size="15" font-weight="bold">MARKER</text>
<text x="2123" y="153" text-anchor="middle" font-size="23" font-weight="bold">Average</text><text x="2123" y="181" text-anchor="middle" font-size="23" font-weight="bold">Porosity</text>
<text x="2293" y="158" text-anchor="middle" font-size="26" font-weight="bold">CORE</text><text x="2293" y="191" text-anchor="middle" font-size="26" font-weight="bold">E11</text>
<text x="2267" y="257" text-anchor="middle" font-size="22">E11-2</text><text x="2350" y="257" text-anchor="middle" font-size="22">E11-3</text>
<text transform="translate(128,1015) rotate(-90)" text-anchor="middle" font-size="44" letter-spacing="24" fill="#222">CYCLE V</text>
<text transform="translate(196,1011) rotate(-90)" text-anchor="middle" font-size="44" letter-spacing="3" fill="#222">PINNACLE</text>
<text transform="translate(128,2515) rotate(-90)" text-anchor="middle" font-size="44" letter-spacing="24" fill="#111">CYCLE IV</text>
<text transform="translate(196,2460) rotate(-90)" text-anchor="middle" font-size="44" letter-spacing="3" fill="#111">MEGABANAK</text>
<g font-size="27" text-anchor="middle" fill="#111">
<text x="363" y="780">Transgressive</text><text x="363" y="816">cap phase</text>
<text x="374" y="1368">Main buildup</text><text x="374" y="1403">phase</text>
<text x="360" y="1643">Flooding unit</text>
<text x="380" y="2292">Shelf carb</text>
<text x="373" y="3088">Flooding</text><text x="373" y="3122">basal unit</text>
<text x="378" y="3357">Lower Pre-MMU</text><text x="378" y="3391">(carb)</text>
</g>
<g fill="#000">
<rect x="533" y="308" width="72" height="47"/><rect x="525" y="748" width="88" height="66"/><rect x="533" y="1203" width="72" height="46"/><rect x="525" y="1391" width="88" height="67"/><rect x="533" y="1640" width="72" height="46"/><rect x="525" y="2255" width="88" height="67"/><rect x="525" y="3056" width="72" height="48"/><rect x="519" y="3320" width="86" height="68"/><rect x="528" y="3488" width="72" height="45"/>
</g>
<g fill="#fff" font-weight="bold" text-anchor="middle">
<text x="569" y="340" font-size="24">TOC</text><text x="569" y="800" font-size="46">SS4</text><text x="569" y="1235" font-size="24">FS4</text><text x="569" y="1443" font-size="46">SS3</text><text x="569" y="1672" font-size="24">FS3</text><text x="569" y="2307" font-size="46">SS2</text><text x="561" y="3089" font-size="24">FS2</text><text x="562" y="3373" font-size="46">SS1</text><text x="564" y="3520" font-size="24">FS1</text>
</g>
<g font-size="26" text-anchor="middle" fill="#111">
<text x="2118" y="320">Mod</text><text x="2118" y="354">&lt;10%</text>
<text x="2118" y="792">Mod</text><text x="2118" y="828">15-19%</text>
<text x="2112" y="1219">Tigth</text><text x="2112" y="1252">&lt;25%</text>
<text x="2112" y="1419">Good</text><text x="2112" y="1454">24%</text>
<text x="2112" y="1651">Tigth</text><text x="2112" y="1684">&lt;10%</text>
<text x="2112" y="2317">Mod</text><text x="2112" y="2352">21%</text>
<text x="2112" y="3097">Tigth</text><text x="2112" y="3131">&lt;10%</text>
</g>
<text x="76" y="3597" font-size="26" font-weight="bold">LEGEND</text>
<text x="76" y="3640" font-size="26">Lithology:</text>
<text x="723" y="3668" font-size="26">Dunham Texture:</text>
<text x="1279" y="3661" font-size="26">Rocktype</text>
<text x="1971" y="3666" font-size="26">Environment:</text>
<g stroke="#668" stroke-width="1.5">
<rect x="76" y="3672" width="131" height="43" fill="#bfe8f0"/><rect x="76" y="3732" width="131" height="43" fill="#f8c0a8"/><rect x="76" y="3792" width="131" height="43" fill="#b8e0b8"/><rect x="76" y="3850" width="131" height="43" fill="#f08050"/><rect x="76" y="3912" width="131" height="43" fill="#8888c8"/><rect x="76" y="3970" width="131" height="43" fill="#e84830"/><rect x="76" y="4026" width="131" height="43" fill="#c8eef8"/><rect x="76" y="4080" width="131" height="43" fill="#c8eef8"/><rect x="76" y="4145" width="131" height="43" fill="#a8a8e0"/><rect x="76" y="4198" width="131" height="43" fill="#a8a8e0"/><rect x="76" y="4257" width="131" height="43" fill="#c0ecc8"/><rect x="76" y="4316" width="131" height="43" fill="#c0ecc8"/><rect x="76" y="4368" width="131" height="43" fill="#b8e0ec"/><rect x="76" y="4426" width="131" height="43" fill="#111"/>
</g>
<g font-size="30" fill="#222">
<text x="231" y="3702">limestone</text><text x="231" y="3762">argillaceous limestone</text><text x="231" y="3822">dolo-limestone</text><text x="231" y="3851">argillaceous dolo-limestone</text><text x="231" y="3941">dolostone</text><text x="231" y="3998">argillaceous dolostone</text><text x="231" y="4054">dolo-lime in limestone</text><text x="231" y="4107">dolo in limestone</text><text x="231" y="4172">lime in dolostone</text><text x="231" y="4226">dolo-lime in dolostone</text><text x="231" y="4285">lime in dolo-lime</text><text x="231" y="4344">dolo in dolo-lime</text><text x="231" y="4396">dolo-lime in arg. limestone</text><text x="231" y="4455">shale</text>
</g>
<line x1="405" y1="3697" x2="500" y2="3697" stroke="#333" stroke-width="2"/>
<g>
<rect x="725" y="3688" width="135" height="43" fill="#111"/><rect x="725" y="3748" width="135" height="43" fill="#2a4aa8"/><rect x="725" y="3807" width="135" height="43" fill="#6cc048"/><rect x="725" y="3867" width="135" height="43" fill="#0e4a22"/><rect x="725" y="3926" width="135" height="43" fill="#f6ec18"/><rect x="725" y="3986" width="135" height="43" fill="#f8aa60"/><rect x="725" y="4046" width="135" height="43" fill="#ea1c24"/><rect x="725" y="4105" width="135" height="43" fill="#f8c0d0"/><rect x="725" y="4165" width="135" height="43" fill="#e060a8"/><rect x="725" y="4224" width="135" height="43" fill="#e8107a"/><rect x="725" y="4284" width="135" height="43" fill="#c0104a"/><rect x="725" y="4344" width="135" height="43" fill="#700a20"/><rect x="725" y="4403" width="135" height="43" fill="#b0a0d8"/>
</g>
<g font-size="30" fill="#222">
<text x="879" y="3720">destroyed</text><text x="879" y="3780">mudstone</text><text x="879" y="3839">wackestone</text><text x="879" y="3899">wacke-packstone</text><text x="879" y="3958">packstone</text><text x="879" y="4018">pack-grainstone</text><text x="879" y="4078">grainstone</text><text x="879" y="4137">floatstone</text><text x="879" y="4197">float-rudstone</text><text x="879" y="4256">rudstone</text><text x="879" y="4316">rud-framestone</text><text x="879" y="4376">framestone</text><text x="879" y="4435">bindstone</text>
</g>
<g>
<rect x="1279" y="3688" width="133" height="43" fill="#2a4aa8"/><rect x="1279" y="3770" width="133" height="43" fill="#1e8a50"/><rect x="1279" y="3867" width="133" height="43" fill="#6cc048"/><rect x="1279" y="3951" width="133" height="43" fill="#f6ec18"/><rect x="1279" y="4042" width="133" height="43" fill="#f8aa60"/><rect x="1279" y="4115" width="133" height="43" fill="#f8c0d0"/>
</g>
<g font-size="30" fill="#222">
<text x="1433" y="3718">Shale</text>
<text x="1433" y="3786">mudstone/wackestone</text><text x="1433" y="3824">(skeletal debris)</text>
<text x="1433" y="3883">wackestone to packstone</text><text x="1433" y="3921">(red algae/foraminifera)</text>
<text x="1435" y="3971">packstone</text><text x="1435" y="4009">(coral/red algae/foraminifera</text>
<text x="1433" y="4062">packstone to grainstone/grainstone</text><text x="1433" y="4100">(coral/red al-gae/foraminifera)</text>
<text x="1435" y="4145">floatstone (coral/red algae)</text>
</g>
<g>
<rect x="1971" y="3688" width="134" height="43" fill="#707070"/><rect x="1971" y="3746" width="134" height="43" fill="#b8b8b8"/><rect x="1971" y="3804" width="134" height="43" fill="#a8c030"/><rect x="1971" y="3861" width="134" height="43" fill="#a8c8f0"/><rect x="1971" y="3919" width="134" height="43" fill="#b0e8f4"/><rect x="1971" y="3977" width="134" height="43" fill="#3070c0"/><rect x="1971" y="4035" width="134" height="43" fill="#4848a8"/><rect x="1971" y="4092" width="134" height="43" fill="#1a3098"/>
</g>
<g font-size="30" fill="#222">
<text x="2126" y="3720">prodelta</text><text x="2126" y="3778">off-reef</text><text x="2126" y="3836">fore-reef</text><text x="2126" y="3893">proximal fore-reef</text><text x="2126" y="3951">reefoid</text><text x="2126" y="4009">proximal reefoid (back-reef)</text><text x="2126" y="4067">shallow lagoon</text><text x="2126" y="4124">deep lagoon</text>
</g>
</svg>
</body></html>
